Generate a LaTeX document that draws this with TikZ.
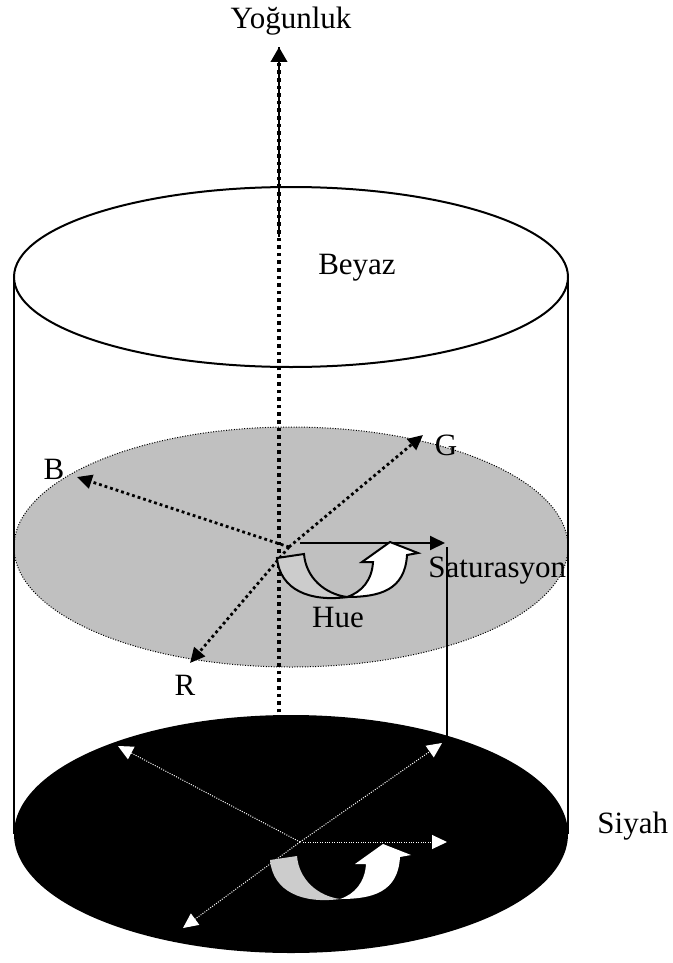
\documentclass[tikz,border=0pt]{standalone}
\usepackage{fontspec}
\setmainfont{Liberation Serif}
\usetikzlibrary{arrows.meta}

\definecolor{discgray}{RGB}{192,192,192}
\definecolor{huegray}{RGB}{204,204,204}

% curved hue arrow, local origin = upper left corner of its tail
\tikzset{
  huetail/.style={fill=huegray, draw, line width=1pt},
  huehead/.style={fill=white, draw, line width=1pt},
  pics/huearrow/.style={code={
    \path[huetail] (0,0) -- (27,-4) .. controls (29,20) and (48,36) .. (70,39)
      .. controls (33,44) and (3,32) .. (0,0) -- cycle;
    \path[huehead] (70,39) .. controls (103,39) and (128,32) .. (130,-3)
      -- (141,-5) -- (113,-16) -- (85,4) -- (96,4)
      .. controls (95,22) and (85,34) .. (70,39) -- cycle;
  }}
}

\begin{document}
\begin{tikzpicture}[
  x=0.5pt, y=-0.5pt,
  font=\fontsize{15.5}{18}\selectfont,
  rim/.style={line width=1pt},
  axis/.style={line width=1.8pt, dash pattern=on 1.8pt off 2pt,
               -{Triangle[length=7.5pt,width=8pt]}},
  ray/.style={line width=1.4pt, dash pattern=on 1.4pt off 1.5pt,
              -{Triangle[length=7.5pt,width=7pt]}},
  wray/.style={white, line width=0.5pt, dash pattern=on 0.5pt off 0.7pt,
               -{Triangle[length=7.5pt,width=7pt]}},
  sarr/.style={line width=1pt, -{Triangle[length=7.5pt,width=7pt]}},
  lbl/.style={inner sep=0pt},
]

  \useasboundingbox (0,0) rectangle (673,963);

  % --- Points ---
  \coordinate (axbot) at (279,720);
  \coordinate (axmid) at (279,237);
  \coordinate (axtop) at (279,47);
  \coordinate (O1)    at (289,547);   % centre, grey disc
  \coordinate (Btip)  at (77,477);
  \coordinate (Gtip)  at (423,435);
  \coordinate (Rtip)  at (190,663);
  \coordinate (S1)    at (300,543);
  \coordinate (S1tip) at (445,543);
  \coordinate (dropA) at (447,547);
  \coordinate (dropB) at (447,760);
  \coordinate (O2)    at (300,842);   % centre, black disc
  \coordinate (B2tip) at (118,746);
  \coordinate (G2tip) at (442,743);
  \coordinate (R2tip) at (183,928);
  \coordinate (S2)    at (303,842);
  \coordinate (S2tip) at (447,842);

  % --- Grey disc (middle cut) ---
  \fill[discgray] (291,547) ellipse [x radius=277, y radius=120];
  \draw[line width=0.5pt, dash pattern=on 0.5pt off 0.8pt]
    (291,547) ellipse [x radius=277, y radius=120];

  % --- Cylinder ---
  \draw[rim] (14,277) -- (14,834);
  \draw[rim] (568,277) -- (568,834);
  \draw[rim] (291,277) ellipse [x radius=277, y radius=90];

  % --- Drop from saturation to black disc ---
  \draw[rim] (dropA) -- (dropB);

  % --- Intensity axis ---
  \draw[axis] (axbot) -- (axtop);
  \draw[line width=0.6pt] (axmid) -- (axtop);

  % --- Black disc (bottom) ---
  \fill[black] (291,834) ellipse [x radius=277, y radius=119];

  % --- Grey disc rays ---
  \draw[ray] (O1) -- (Btip);
  \draw[ray] (O1) -- (Gtip);
  \draw[ray] (O1) -- (Rtip);
  \draw[sarr] (S1) -- (S1tip);
  \pic at (277,558) {huearrow};

  % --- Black disc rays ---
  \draw[wray] (O2) -- (B2tip);
  \draw[wray] (O2) -- (G2tip);
  \draw[wray] (O2) -- (R2tip);
  \draw[wray] (S2) -- (S2tip);
  \pic[huetail/.style={fill=huegray}, huehead/.style={fill=white}]
    at (270,860) {huearrow};

  % --- Labels ---
  \node[lbl, anchor=base] (yogunluk) at (291,29) {Yoğunluk};
  \node[lbl, anchor=base] (beyaz) at (357,274) {Beyaz};
  \node[lbl, anchor=base] (lblB) at (54,479) {B};
  \node[lbl, anchor=base] (lblG) at (446,455) {G};
  \node[lbl, anchor=base] (lblR) at (185,695) {R};
  \node[lbl, anchor=base] (hue) at (338,627) {Hue};
  \node[lbl, anchor=base west] (satur) at (428,577) {Saturasyon};
  \node[lbl, anchor=base west] (siyah) at (597,833) {Siyah};

\end{tikzpicture}
\end{document}
